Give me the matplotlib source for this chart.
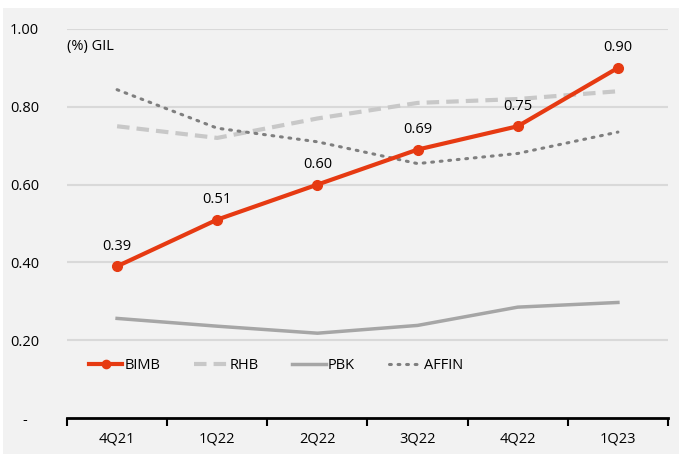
import matplotlib.pyplot as plt
from matplotlib.patches import Rectangle

plt.rcParams['font.family'] = ['Open Sans', 'DejaVu Sans']

quarters = ['4Q21', '1Q22', '2Q22', '3Q22', '4Q22', '1Q23']
bimb = [0.39, 0.51, 0.60, 0.69, 0.75, 0.90]
rhb = [0.75, 0.72, 0.77, 0.81, 0.82, 0.84]
pbk = [0.256, 0.236, 0.218, 0.238, 0.285, 0.297]
affin = [0.844, 0.745, 0.71, 0.654, 0.68, 0.735]
yticks = [0, 0.2, 0.4, 0.6, 0.8, 1.0]
ylabels = ['-   ', '0.20', '0.40', '0.60', '0.80', '1.00']

fig = plt.figure(figsize=(6.79, 4.54), dpi=100)
fig.patch.set_facecolor('white')
fig.patches.append(Rectangle((0.004, 0), 0.996, 1 - 8 / 454, transform=fig.transFigure,
                             facecolor='#f2f2f2', edgecolor='none', zorder=-10))

ax = fig.add_axes([67 / 679, 1 - 418 / 454, 601 / 679, 389 / 454])
ax.set_facecolor('none')
x = range(len(quarters))

ax.plot(x, bimb, color='#e63a12', lw=3, marker='o', ms=7, label='BIMB', zorder=5)
ax.plot(x, rhb, color='#c8c8c8', lw=3, ls=(0, (3, 1.7)), label='RHB', zorder=3)
ax.plot(x, pbk, color='#a6a6a6', lw=2.5, label='PBK', zorder=3)
ax.plot(x, affin, color='#7f7f7f', lw=2.2, ls=(0, (0.6, 2.2)), dash_capstyle='round',
        label='AFFIN', zorder=4)

for i, v in enumerate(bimb):
    ax.annotate(f'{v:.2f}', (i, v), xytext=(0, 9), textcoords='offset points',
                ha='center', va='bottom', fontsize=10.5, color='black')

ax.set_xlim(-0.5, len(quarters) - 0.5)
ax.set_ylim(0, 1.0)
ax.set_yticks(yticks)
ax.set_yticklabels(ylabels)
ax.set_xticks(list(x))
ax.set_xticklabels(quarters)
ax.set_xticks([i - 0.5 for i in range(len(quarters) + 1)], minor=True)
ax.tick_params(axis='x', which='major', length=0, pad=10, labelsize=10.5)
ax.tick_params(axis='x', which='minor', length=6, width=1.5, direction='out', color='black')
ax.tick_params(axis='y', length=0, pad=20, labelsize=10.5)

for y in yticks[1:]:
    ax.axhline(y, color='#d9d9d9', lw=1.5, zorder=1)
for s in ['top', 'right', 'left']:
    ax.spines[s].set_visible(False)
ax.spines['bottom'].set_linewidth(2)
ax.spines['bottom'].set_color('black')

ax.text(0.0, 0.955, '(%) GIL', transform=ax.transAxes, fontsize=10.5, va='center', ha='left')

ax.legend(loc='center', bbox_to_anchor=(0.348, 0.134), ncol=4, frameon=False, fontsize=10.5,
          handlelength=2.3, handletextpad=0.15, columnspacing=2.3, markerscale=0.85)

fig.savefig('out.png', dpi=100)
